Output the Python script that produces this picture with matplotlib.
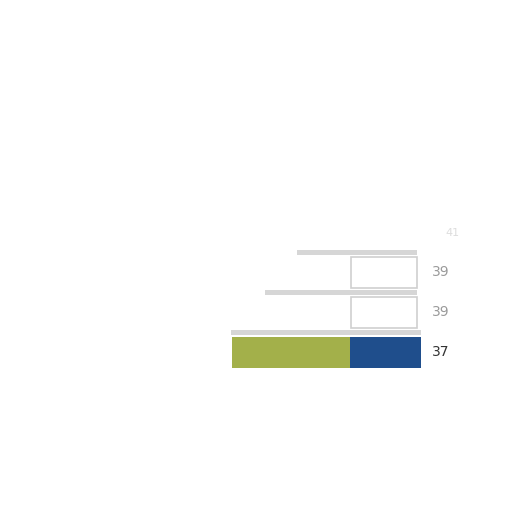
import matplotlib
matplotlib.use("Agg")
import matplotlib.pyplot as plt
import numpy as np

rows = [0, 1, 2]
green = [0, 0, 23]
blue = [0, 0, 14]
ghost_right = [13, 13, 0]
shelf_len = [23.5, 29.7, 37.2]
totals = ["39", "39", "37"]
label_colors = ["#9a9a9a", "#9a9a9a", "#333333"]
extra_label = "41"

fig = plt.figure(figsize=(5.12, 5.12), dpi=100)
ax = fig.add_axes([0, 0, 1, 1])
ax.set_xlim(82.4, -17.8)
ax.set_ylim(5.9875, -6.8125)
ax.axis("off")

y = np.array(rows, dtype=float)
h = 0.78
# green and blue stacked (right-aligned: x inverted, blue starts at 0)
ax.barh(y, blue, left=0, height=h, color="#1f4e8c", edgecolor="none")
ax.barh(y, green, left=blue, height=h, color="#a3b04a", edgecolor="none")
# ghost white boxes
ax.barh(y[:2], ghost_right[:2], left=0.8, height=h, color="white",
        edgecolor="#cfcfcf", linewidth=1.2)
# shelves on top of each row
ax.barh(y - 0.5, shelf_len, left=[0.8, 0.8, 0], height=0.13,
        color="#d6d6d6", edgecolor="none")

for yi, t, c in zip(y, totals, label_colors):
    ax.text(-2.2, yi, t, ha="left", va="center", fontsize=10, color=c)
ax.text(-4.8, -1.0, extra_label, ha="left", va="center", fontsize=8,
        color="#dddddd")

fig.savefig("out.png", dpi=100, facecolor="white")
